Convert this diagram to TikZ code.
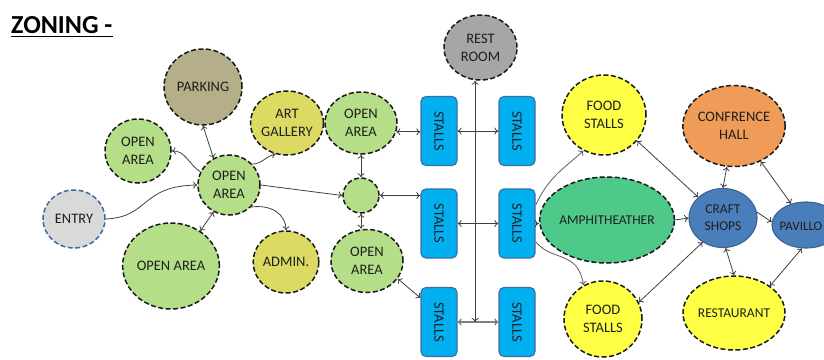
\documentclass[tikz,border=0pt]{standalone}
\usepackage{fontspec}
\setmainfont{Carlito}
\usetikzlibrary{shapes.geometric,arrows.meta,calc}

\definecolor{txt}{HTML}{1F1F1F}
\definecolor{lnk}{HTML}{404040}
\definecolor{lnkgray}{HTML}{7F7F7F}
\definecolor{greenL}{HTML}{B5DE88}
\definecolor{khaki}{HTML}{B4AE89}
\definecolor{olive}{HTML}{DBDA62}
\definecolor{greyL}{HTML}{D9D9D9}
\definecolor{greyM}{HTML}{A6A6A6}
\definecolor{entrybd}{HTML}{41699C}
\definecolor{stallfill}{HTML}{00B0F0}
\definecolor{stallbd}{HTML}{3D6FA6}
\definecolor{yel}{HTML}{FFFF45}
\definecolor{amphgreen}{HTML}{4FC98A}
\definecolor{orng}{HTML}{EE9C58}
\definecolor{blu}{HTML}{4A7EBB}
\definecolor{blubd}{HTML}{3A6393}

\begin{document}
\begin{tikzpicture}[x=1pt,y=-1pt,
  zone/.style={ellipse, draw=black!90, line width=1.5pt,
    dash pattern=on 5pt off 2.5pt, inner sep=0pt, align=center,
    text=txt, font=\fontsize{14.5}{18}\selectfont},
  small/.style={font=\fontsize{13.5}{17}\selectfont},
  blob/.style={ellipse, draw=blubd, line width=1.1pt, fill=blu,
    inner sep=0pt, align=center, text=txt,
    font=\fontsize{13.5}{17}\selectfont},
  stallbox/.style={rectangle, rounded corners=5pt, draw=stallbd,
    line width=1.2pt, fill=stallfill, minimum width=36pt,
    minimum height=69pt, inner sep=0pt, text=txt,
    font=\fontsize{14.5}{18}\selectfont},
  tip/.tip={To[length=4pt,width=7pt]},
  link/.style={draw=lnk, line width=0.8pt},
  dbl/.style={link, tip-tip},
  sgl/.style={link, -tip}
]
\useasboundingbox (0,0) rectangle (824,359);
\clip (0,0) rectangle (824,359);

% heading
\node[anchor=base west, inner sep=0pt, font=\bfseries\fontsize{26}{30}\selectfont]
  (title) at (11,33) {ZONING -};
\draw[line width=1.9pt] ($(title.base west)+(0,3.5)$) -- ($(title.base east)+(0,3.5)$);

% left cluster
\node[zone, draw=entrybd, fill=greyL, minimum width=62pt, minimum height=58pt]
  (entry) at (74,219) {ENTRY};
\node[zone, fill=greenL, minimum width=66pt, minimum height=64pt]
  (oaL) at (138,151) {OPEN\\AREA};
\node[zone, fill=khaki, minimum width=78pt, minimum height=76pt]
  (parking) at (203,87) {PARKING};
\node[zone, fill=olive, minimum width=54pt, minimum height=64pt]
  (art) at (287,123) {ART\\GALLERY};
\node[zone, fill=greenL, minimum width=62pt, minimum height=60pt]
  (oaC) at (229,185) {OPEN\\AREA};
\node[zone, fill=greenL, minimum width=96pt, minimum height=86pt]
  (oaB) at (171,266) {OPEN AREA};
\node[zone, fill=olive, minimum width=52pt, minimum height=62pt]
  (admin) at (286,262) {ADMIN.};

% middle cluster
\node[zone, fill=greenL, minimum width=72pt, minimum height=62pt]
  (oaU) at (361,123) {OPEN\\AREA};
\node[zone, fill=greenL, minimum width=36pt, minimum height=35pt]
  (junc) at (361,195.5) {};
\node[zone, fill=greenL, minimum width=72pt, minimum height=63pt]
  (oaD) at (367,261) {OPEN\\AREA};
\node[zone, fill=greyM, minimum width=73pt, minimum height=65pt]
  (rest) at (480.5,47.5) {REST\\ROOM};

% stall blocks
\node[stallbox] (s11) at (439,131) {\rotatebox{-90}{STALLS}};
\node[stallbox] (s12) at (517,131) {\rotatebox{-90}{STALLS}};
\node[stallbox] (s21) at (439,223.5) {\rotatebox{-90}{STALLS}};
\node[stallbox] (s22) at (517,223.5) {\rotatebox{-90}{STALLS}};
\node[stallbox] (s31) at (439,322) {\rotatebox{-90}{STALLS}};
\node[stallbox] (s32) at (517,322) {\rotatebox{-90}{STALLS}};

% right cluster
\node[zone, fill=yel, minimum width=84pt, minimum height=80pt]
  (food1) at (604,115) {FOOD\\STALLS};
\node[zone, small, fill=amphgreen, minimum width=108pt, minimum height=86pt]
  (amph) at (607,220) {AMPHITHEATHER};
\node[zone, fill=yel, minimum width=78pt, minimum height=76pt]
  (food2) at (603,319) {FOOD\\STALLS};
\node[zone, fill=orng, minimum width=90pt, minimum height=81pt]
  (conf) at (734,126) {CONFRENCE\\HALL};
\node[blob, minimum width=68pt, minimum height=59pt]
  (craft) at (723,218) {CRAFT\\SHOPS};
\node[blob, minimum width=68pt, minimum height=46pt]
  (pav) at (806,225) {};
\node[anchor=west, inner sep=0pt, text=txt, font=\fontsize{13}{16}\selectfont]
  (pavtext) at (779.5,226) {PAVILLO};
\node[zone, small, fill=yel, minimum width=77pt, minimum height=74pt]
  (resto) at (734,313) {RESTAURANT};

% links of the left cluster
\draw[sgl] (entry.east) .. controls (150,217) and (140,186) .. (oaC.west);
\draw[sgl] (oaC.155) .. controls (190,166) and (185,150) .. (oaL.east);
\draw[sgl] (oaC.42) .. controls (262,164) and (266,156) .. (art.250);
\draw[dbl] (oaC.120) -- (parking.south);
\draw[dbl] (oaC.240) -- (oaB.50);
\draw[sgl] (oaC.-45) .. controls (272,204) and (286,215) .. (admin.north);
\draw[sgl] (oaC.east) -- (junc.west);

% links of the middle cluster
\draw[dbl] (oaU.south) -- (junc.north);
\draw[dbl] (junc.south) -- (junc.south |- oaD.north);
\draw[dbl] (oaU.-14) -- (oaU.-14 -| s11.west);
\draw[dbl] (junc.east) -- (junc.east -| s21.west);
\draw[dbl] (oaD.-30) -- ($(s31.north west)+(0,11)$);

\draw[dbl] (s11.east) -- (s12.west);
\draw[dbl] (s21.east) -- (s22.west);
\draw[dbl, draw=lnkgray, line width=1.4pt] (s31.east) -- (s32.west)
  coordinate[pos=0.43] (jb);
\draw[dbl] (jb) -- (jb |- rest.south);

% links of the right cluster
\draw[sgl] (s22.east) -- (s22.east -| amph.west);
\draw[sgl, draw=lnk!85] ($(s22.north east)+(0,17)$)
  .. controls (548,178) and (562,170) .. (food1.-120);
\draw[sgl, draw=lnk!85] ($(s22.south east)+(0,-17)$)
  .. controls (552,262) and (578,250) .. (food2.120);
\draw[sgl] (amph.east) -- (craft.west);
\draw[dbl] (food1.-38) -- (craft.140);
\draw[dbl] (conf.-100) -- (craft.north);
\draw[dbl] (conf.-53) -- (pav.125);
\draw[sgl] (craft.10) -- (pav.175);
\draw[dbl] (food2.25) -- (craft.-130);
\draw[dbl] (craft.-85) -- (resto.north);
\draw[dbl] (pav.-100) -- (resto.37);
\end{tikzpicture}
\end{document}
